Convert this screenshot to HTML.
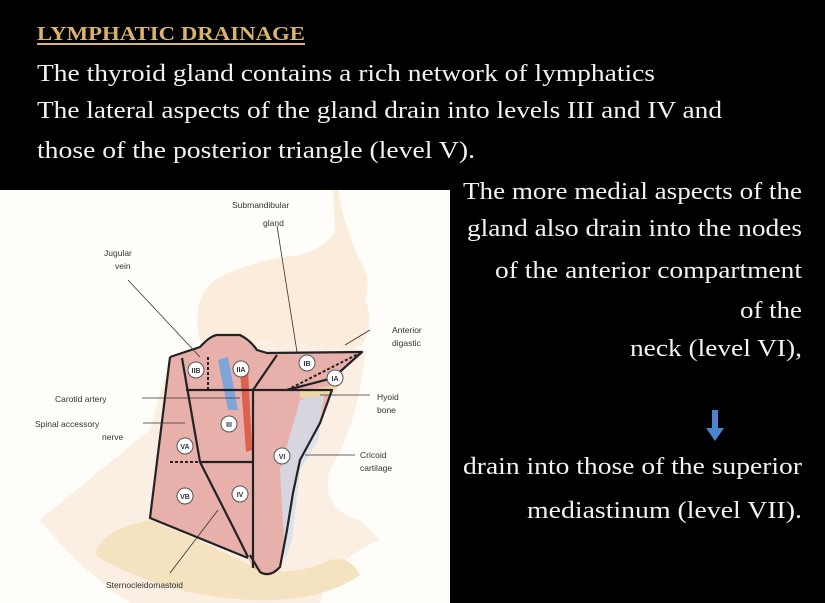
<!DOCTYPE html>
<html><head><meta charset="utf-8"><style>
html,body{margin:0;padding:0;background:#000;}
svg{display:block;}
.t{font-family:"Liberation Serif",serif;fill:#f2f2f2;font-size:24px;}
.s{font-family:"Liberation Sans",sans-serif;fill:#333;font-size:8.5px;}
.c{font-family:"Liberation Sans",sans-serif;fill:#333;font-size:7px;font-weight:bold;text-anchor:middle;}
</style></head><body>
<svg width="825" height="603" viewBox="0 0 825 603" xmlns="http://www.w3.org/2000/svg">
<rect width="825" height="603" fill="#000"/>
<text x="37" y="40" font-family="Liberation Serif,serif" font-size="20" font-weight="bold" fill="#d9b36a" textLength="268" lengthAdjust="spacingAndGlyphs">LYMPHATIC DRAINAGE</text>
<rect x="37" y="43" width="268" height="2" fill="#d9b36a"/>
<text class="t" x="37" y="81" textLength="618" lengthAdjust="spacingAndGlyphs">The thyroid gland contains a rich network of lymphatics</text>
<text class="t" x="37" y="118" textLength="685" lengthAdjust="spacingAndGlyphs">The lateral aspects of the gland drain into levels III and IV and</text>
<text class="t" x="37" y="158" textLength="438" lengthAdjust="spacingAndGlyphs">those of the posterior triangle (level V).</text>

<text class="t" x="463" y="199" textLength="339" lengthAdjust="spacingAndGlyphs">The more medial aspects of the</text>
<text class="t" x="467" y="236" textLength="335" lengthAdjust="spacingAndGlyphs">gland also drain into the nodes</text>
<text class="t" x="495" y="278" textLength="307" lengthAdjust="spacingAndGlyphs">of the anterior compartment</text>
<text class="t" x="740" y="318" textLength="62" lengthAdjust="spacingAndGlyphs">of the</text>
<text class="t" x="630" y="356" textLength="172" lengthAdjust="spacingAndGlyphs">neck (level VI),</text>
<path d="M712 410 h6 v18 h6 l-9 13 l-9 -13 h6 z" fill="#4a86d0"/>
<text class="t" x="463" y="474" textLength="339" lengthAdjust="spacingAndGlyphs">drain into those of the superior</text>
<text class="t" x="527" y="518" textLength="275" lengthAdjust="spacingAndGlyphs">mediastinum (level VII).</text>

<!-- illustration -->
<rect x="0" y="190" width="450" height="413" fill="#fffdf9"/>
<path d="M200 340 Q190 300 215 280 Q250 260 300 255 Q330 245 335 230 L333 190 L338 190 Q345 230 360 260 Q372 280 365 300 Q375 320 362 345 Q340 355 300 355 L257 350 Z" fill="#fbecdc"/>
<path d="M40 520 Q100 470 150 430 L170 357 L260 340 L365 350 Q360 420 330 470 Q320 510 360 520 L380 540 Q330 560 320 603 L130 603 Q80 570 40 520Z" fill="#fbeee2"/>
<path d="M95 555 Q100 530 150 520 Q200 540 250 565 Q290 580 330 560 Q350 555 360 575 Q320 603 250 600 Q160 595 95 555Z" fill="#f4e2c0"/>
<path d="M170 357 L200 347 L217 335 L240 335 L257 350 L267 353 L362 352 L333 378 L332 390 L320 423 L300 460 L293 493 L287 530 L280 567 L267 575 L253 568 L248 558 L150 518 Z" fill="#e7b0ab"/>
<path d="M300 400 L325 390 L318 440 L300 470 L292 540 L285 560 L280 470 Z" fill="#d3dfee" opacity="0.8"/>
<path d="M218 360 L228 357 L238 410 L228 410 Z" fill="#7fa4d8"/>
<path d="M240 370 L248 368 L252 450 L246 452 Z" fill="#e0604e"/>
<path d="M300 390 L340 385 L330 395 L300 398Z" fill="#efd8a8"/>
<g fill="none" stroke="#222" stroke-width="2.2" stroke-linejoin="round">
<path d="M170 357 L200 347 Q210 336 217 335 L240 335 Q250 340 257 350 L267 353 L362 352 L333 378 L287 390"/>
<path d="M170 357 L150 518 L248 558"/>
<path d="M182 358 L200 462 L233 527 L248 557"/>
<path d="M186 390 L332 390 L320 423 L300 460 L293 493 L287 530 L280 567 Q270 578 260 572 L250 555"/>
<path d="M253 390 L253 568"/>
<path d="M200 462 L253 462"/>
<path d="M277 355 L253 390"/>
</g>
<g stroke="#222" stroke-width="2" stroke-dasharray="3,2" fill="none">
<path d="M170 462 L200 462"/><path d="M208 357 L208 390"/><path d="M287 390 L362 352"/>
</g>
<g fill="#fff" stroke="#555" stroke-width="1">
<circle cx="196" cy="370" r="8"/><circle cx="241" cy="369" r="8"/><circle cx="307" cy="363" r="8"/><circle cx="335" cy="378" r="8"/><circle cx="229" cy="424" r="8"/><circle cx="185" cy="446" r="8"/><circle cx="282" cy="456" r="8"/><circle cx="185" cy="496" r="8"/><circle cx="240" cy="494" r="8"/>
</g>
<text class="c" x="196" y="373">IIB</text><text class="c" x="241" y="372">IIA</text><text class="c" x="307" y="366">IB</text><text class="c" x="335" y="381">IA</text><text class="c" x="229" y="427">III</text><text class="c" x="185" y="449">VA</text><text class="c" x="282" y="459">VI</text><text class="c" x="185" y="499">VB</text><text class="c" x="240" y="497">IV</text>
<g stroke="#333" stroke-width="0.8" fill="none">
<path d="M277 226 L297 352"/><path d="M128 280 L200 357"/><path d="M142 398 L240 398"/><path d="M143 423 L185 423"/><path d="M370 330 L345 345"/><path d="M320 395 L370 395"/><path d="M305 455 L355 455"/><path d="M170 573 L218 510"/>
</g>
<text class="s" x="232" y="208">Submandibular</text><text class="s" x="263" y="226">gland</text>
<text class="s" x="104" y="256">Jugular</text><text class="s" x="115" y="269">vein</text>
<text class="s" x="55" y="402">Carotid artery</text>
<text class="s" x="35" y="427">Spinal accessory</text><text class="s" x="102" y="440">nerve</text>
<text class="s" x="392" y="333">Anterior</text><text class="s" x="392" y="346">digastic</text>
<text class="s" x="377" y="400">Hyoid</text><text class="s" x="377" y="413">bone</text>
<text class="s" x="360" y="458">Cricoid</text><text class="s" x="360" y="471">cartilage</text>
<text class="s" x="106" y="588">Sternocleidomastoid</text>
</svg>
</body></html>
